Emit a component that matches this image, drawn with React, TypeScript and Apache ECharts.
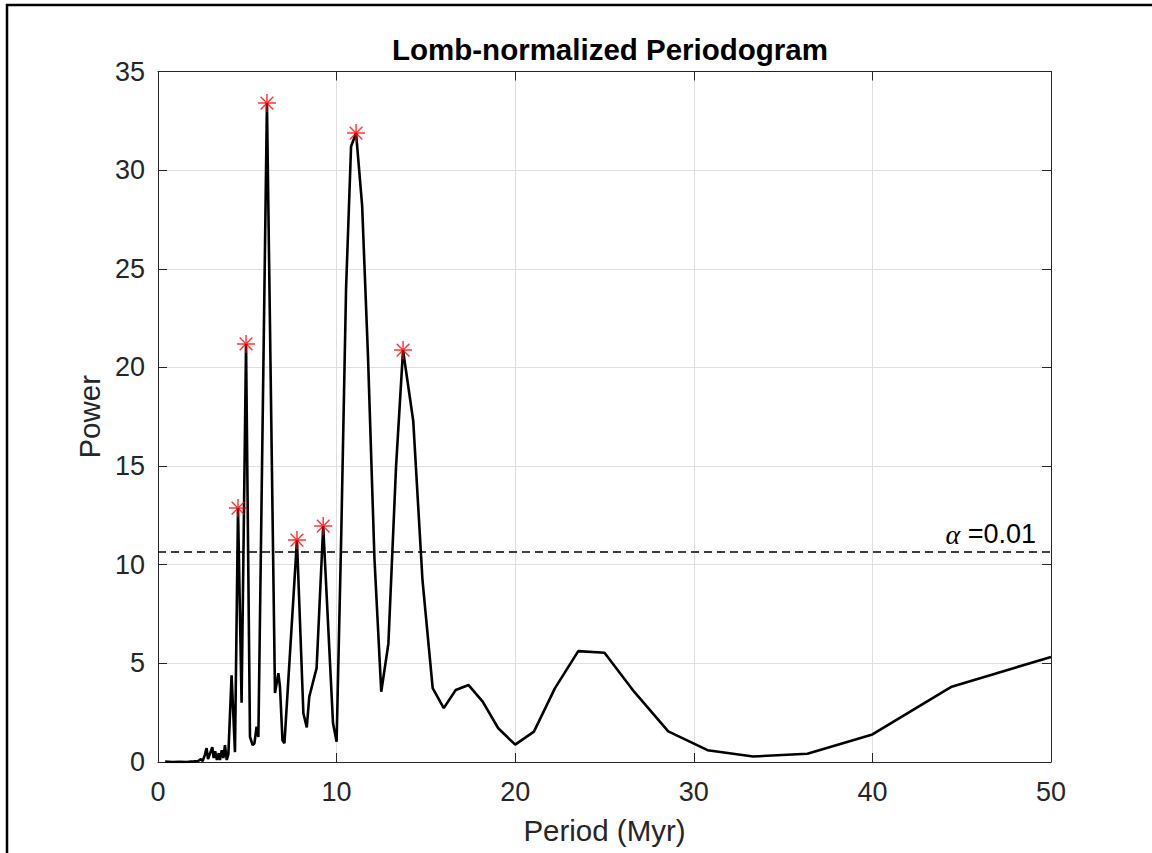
import React, { useEffect, useRef } from "react";
import * as echarts from "echarts";

// Periodogram trace: period (Myr) and Lomb-normalized power
const periods = [
  0.4, 0.8, 1.2, 1.6, 2.0, 2.25, 2.4, 2.5, 2.62, 2.72, 2.8, 2.9, 3.04, 3.12, 3.2, 3.3,
  3.4, 3.47, 3.57, 3.66, 3.75, 3.85, 3.94, 4.12, 4.31, 4.48, 4.68, 4.93, 5.15, 5.3,
  5.4, 5.52, 5.62, 6.1, 6.55, 6.74, 6.83, 6.97, 7.08, 7.78, 8.14, 8.33, 8.47, 8.88,
  9.25, 9.8, 10.0, 10.26, 10.53, 10.81, 11.09, 11.43, 11.76, 12.12, 12.5, 12.9, 13.33,
  13.72, 14.29, 14.81, 15.38, 16.0, 16.67, 17.39, 18.18, 19.05, 20.0, 21.05, 22.22,
  23.53, 25.0, 26.67, 28.57, 30.77, 33.33, 36.36, 40.0, 44.44, 50.0,
];
const power = [
  0.02, 0.0, 0.01, 0.0, 0.03, 0.05, 0.15, 0.05, 0.35, 0.7, 0.15, 0.4, 0.75, 0.2, 0.55, 0.1,
  0.45, 0.1, 0.6, 0.2, 0.85, 0.1, 0.4, 4.4, 0.5, 12.87, 3.0, 21.19, 1.28, 0.86,
  0.95, 1.79, 1.27, 33.4, 3.5, 4.5, 3.8, 1.1, 0.95, 11.25, 2.47, 1.75, 3.31, 4.76,
  11.96, 1.96, 1.03, 11.5, 24.0, 31.2, 31.88, 28.2, 20.5, 10.3, 3.56, 6.0, 15.0,
  20.88, 17.3, 9.2, 3.74, 2.73, 3.65, 3.9, 3.06, 1.71, 0.88, 1.54, 3.73,
  5.62, 5.54, 3.55, 1.55, 0.6, 0.28, 0.42, 1.4, 3.82, 5.32,
];

// Significant peaks (red asterisks)
const peakPeriods = [4.48, 4.93, 6.1, 7.78, 9.25, 11.09, 13.72];
const peakPowers = [12.87, 21.19, 33.4, 11.25, 11.96, 31.88, 20.88];

// Significance threshold
const thresholdPower = 10.64;
const thresholdLabel = "=0.01";

const xTicks = { min: 0, max: 50, interval: 10 };
const yTicks = { min: 0, max: 35, interval: 5 };

const FONT = "'Liberation Sans', Arial, Helvetica, sans-serif";
const AX = "#262626";

const ASTERISK =
  "path://M0 9.2H20V10.8H0Z M9.2 0H10.8V20H9.2Z M3.5 2.4L17.6 16.5L16.5 17.6L2.4 3.5Z M16.5 2.4L17.6 3.5L3.5 17.6L2.4 16.5Z";

export default function App() {
  const ref = useRef<HTMLDivElement>(null);
  useEffect(() => {
    if (!ref.current) return;
    const chart = echarts.init(ref.current, null, { renderer: "svg" });
    const axisCommon = {
      type: "value" as const,
      axisLine: { show: true, onZero: false, lineStyle: { color: AX, width: 1 } },
      axisTick: { show: true, inside: true, length: 9, lineStyle: { color: AX, width: 1 } },
    };
    chart.setOption({
      animation: false,
      backgroundColor: "#ffffff",
      title: {
        text: "Lomb-normalized Periodogram",
        left: 387,
        top: 29,
        textStyle: { fontFamily: FONT, fontSize: 29.5, fontWeight: "bold", color: "#000" },
      },
      grid: { left: 158, right: 101, top: 71.5, bottom: 91, containLabel: false },
      xAxis: [
        {
          ...axisCommon,
          ...xTicks,
          position: "bottom",
          name: "Period (Myr)",
          nameLocation: "middle",
          nameGap: 53,
          nameTextStyle: { fontFamily: FONT, fontSize: 29.5, color: AX },
          axisLabel: { margin: 16, fontFamily: FONT, fontSize: 27, color: AX },
          splitLine: { show: true, lineStyle: { color: "#dfdfdf", width: 1 } },
        },
        {
          ...axisCommon,
          ...xTicks,
          position: "top",
          axisLabel: { show: false },
          splitLine: { show: false },
        },
      ],
      yAxis: [
        {
          ...axisCommon,
          ...yTicks,
          position: "left",
          name: "Power",
          nameLocation: "middle",
          nameRotate: 90,
          nameGap: 50,
          nameTextStyle: { fontFamily: FONT, fontSize: 29.5, color: AX },
          axisLabel: { margin: 13, fontFamily: FONT, fontSize: 27, color: AX },
          splitLine: { show: true, lineStyle: { color: "#dfdfdf", width: 1 } },
        },
        {
          ...axisCommon,
          ...yTicks,
          position: "right",
          axisLabel: { show: false },
          splitLine: { show: false },
        },
      ],
      graphic: [
        {
          type: "polyline",
          silent: true,
          shape: { points: [[7, 900], [7, 5], [1200, 5]] },
          style: { stroke: "#000", lineWidth: 2.5, fill: null },
        },
      ],
      series: [
        {
          type: "line",
          xAxisIndex: 0,
          yAxisIndex: 0,
          data: periods.map((p, i) => [p, power[i]]),
          showSymbol: false,
          symbol: "none",
          lineStyle: { color: "#000", width: 2.6 },
          z: 3,
          markLine: {
            silent: true,
            symbol: ["none", "none"],
            emphasis: { disabled: true },
            data: [{ yAxis: thresholdPower }],
            lineStyle: { color: "#000", width: 1.5, type: [8, 5] },
            label: {
              show: true,
              position: "insideEndTop",
              distance: [15, 4],
              formatter: "{a|α} " + thresholdLabel,
              fontFamily: FONT,
              fontSize: 27,
              color: "#000",
              rich: {
                a: {
                  fontFamily: "'Liberation Serif', 'DejaVu Serif', serif",
                  fontStyle: "italic",
                  fontSize: 28,
                  color: "#000",
                },
              },
            },
          },
        },
        {
          type: "scatter",
          xAxisIndex: 0,
          yAxisIndex: 0,
          data: peakPeriods.map((p, i) => [p, peakPowers[i]]),
          symbol: ASTERISK,
          symbolSize: 18,
          itemStyle: { color: "#ff0000" },
          z: 4,
        },
      ],
    });
    return () => chart.dispose();
  }, []);
  return (
    <div
      ref={ref}
      style={{ position: "fixed", left: 0, top: 0, width: 1152, height: 853, background: "#fff" }}
    />
  );
}
